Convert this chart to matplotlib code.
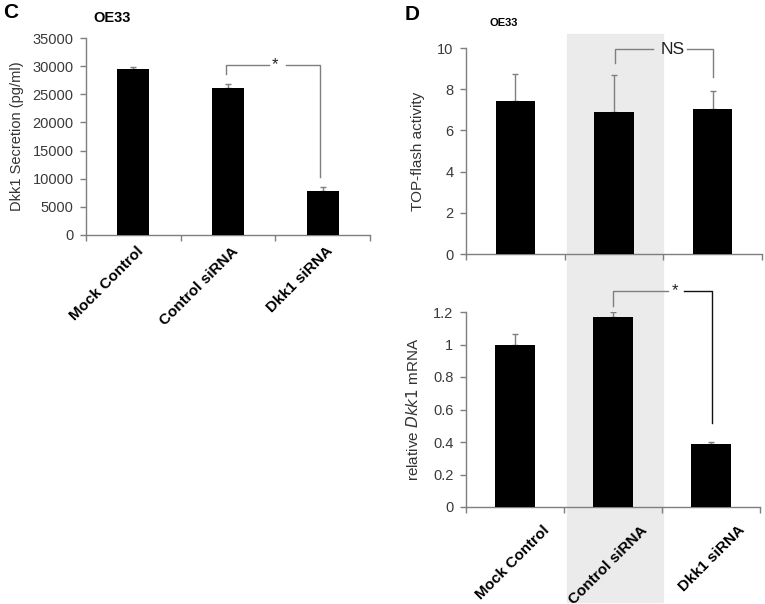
import numpy as np
import matplotlib.pyplot as plt
from matplotlib.patches import Rectangle
from matplotlib.transforms import ScaledTranslation

plt.rcParams['font.family'] = ['Liberation Sans', 'DejaVu Sans']

groups = ["Mock Control", "Control siRNA", "Dkk1 siRNA"]

# panel C: Dkk1 secretion
secretion = [29450, 26200, 7750]
secretion_err = [400, 650, 750]

# panel D top: TOP-flash
topflash = [7.45, 6.88, 7.02]
topflash_err = [1.27, 1.82, 0.90]

# panel D bottom: relative Dkk1 mRNA
mrna = [1.0, 1.167, 0.385]
mrna_err = [0.066, 0.035, 0.015]

grey = "#7f7f7f"
tick_col = "#3a3a3a"

fig = plt.figure(figsize=(7.65, 6.04), dpi=100)
W, H = 765, 604


def box(x0, y0, x1, y1):
    # pixel box -> figure fraction [left, bottom, width, height]
    return [x0 / W, 1 - y1 / H, (x1 - x0) / W, (y1 - y0) / H]


# grey shading behind the Control siRNA column in panel D
fig.patches.append(Rectangle((567 / W, 1 - 602 / H), 96 / W, 568 / H,
                             transform=fig.transFigure, color="#ebebeb", zorder=-5))


def bar_panel(ax, vals, errs, ymax, yticks, ticklabels, ylabel, lab_off=None,
              width=0.34, ylsize=11, ylpad=6):
    x = np.arange(len(vals))
    ax.patch.set_alpha(0)
    ax.bar(x, vals, width=width, color="black", zorder=3)
    ax.errorbar(x, vals, yerr=[np.zeros(len(errs)), errs], fmt="none",
                ecolor=grey, elinewidth=1, capsize=2, capthick=1, zorder=2)
    ax.set_xlim(-0.5, len(vals) - 0.5)
    ax.set_ylim(0, ymax)
    ax.set_yticks(yticks)
    ax.set_yticklabels(ticklabels)
    for s in ["top", "right"]:
        ax.spines[s].set_visible(False)
    for s in ["left", "bottom"]:
        ax.spines[s].set_color(grey)
        ax.spines[s].set_linewidth(1)
    ax.tick_params(axis="y", colors=grey, labelcolor=tick_col, labelsize=10.5,
                   length=4, width=1, direction="out", pad=5)
    ax.set_xticks(np.arange(-0.5, len(vals), 1.0), minor=True)
    ax.set_xticks(x)
    ax.tick_params(axis="x", which="minor", colors=grey, length=4, width=1, direction="out")
    if lab_off is not None:
        ax.set_xticklabels(groups, rotation=45, ha="right", va="top", rotation_mode="anchor",
                           fontweight="bold", fontsize=11)
        ax.tick_params(axis="x", which="major", length=0, pad=0)
        dx, dy = lab_off
        for t in ax.get_xticklabels():
            t.set_transform(t.get_transform() + ScaledTranslation(dx / 100, -dy / 100, fig.dpi_scale_trans))
    else:
        ax.tick_params(axis="x", which="major", length=0, labelbottom=False)
    ax.set_ylabel(ylabel, fontsize=ylsize, color="#333333", labelpad=ylpad)


def bracket(ax, x0, y0, x1, y1, ytop, xl, xr, xt, label, col_left=grey, col_right=grey, fs=11):
    ax.plot([x0, x0, xl], [y0, ytop, ytop], color=col_left, lw=1, clip_on=False, zorder=4)
    ax.plot([xr, x1, x1], [ytop, ytop, y1], color=col_right, lw=1, clip_on=False, zorder=4)
    ax.text(xt, ytop, label, ha="center", va="center", fontsize=fs, color="#222222")


# ---- panel C ----
axc = fig.add_axes(box(86, 38, 370, 235))
bar_panel(axc, secretion, secretion_err, 35000, range(0, 35001, 5000),
          [str(v) for v in range(0, 35001, 5000)], "Dkk1 Secretion (pg/ml)",
          lab_off=(3, 9), ylsize=10.5)
bracket(axc, 0.974, 28600, 1.974, 10300, 30200, 1.437, 1.616, 1.5, "*", fs=12)

# ---- panel D top ----
axd1 = fig.add_axes(box(466, 48, 762, 254))
bar_panel(axd1, topflash, topflash_err, 10, range(0, 11, 2),
          [str(v) for v in range(0, 11, 2)], "TOP-flash activity", width=0.4, ylpad=9)
bracket(axd1, 1.01, 9.27, 2.0, 8.6, 9.95, 1.395, 1.74, 1.59, "NS", fs=12.5)

# ---- panel D bottom ----
axd2 = fig.add_axes(box(466, 312, 760, 507))
bar_panel(axd2, mrna, mrna_err, 1.2, [0, 0.2, 0.4, 0.6, 0.8, 1.0, 1.2],
          ["0", "0.2", "0.4", "0.6", "0.8", "1", "1.2"],
          "relative $\\it{Dkk1}$ mRNA", lab_off=(27, 16), width=0.4, ylpad=9)
bracket(axd2, 1.0, 1.237, 2.01, 0.517, 1.33, 1.56, 1.72, 1.63, "*", col_right="#111111", fs=12)

# panel letters and titles
fig.text(3 / W, 1 - 13 / H, "C", fontsize=15, fontweight="bold", va="center")
fig.text(93 / W, 1 - 18 / H, "OE33", fontsize=10.5, fontweight="bold", va="center")
fig.text(405 / W, 1 - 15 / H, "D", fontsize=15, fontweight="bold", va="center")
fig.text(490 / W, 1 - 23 / H, "OE33", fontsize=8, fontweight="bold", va="center")

fig.savefig("out.png", dpi=100)
